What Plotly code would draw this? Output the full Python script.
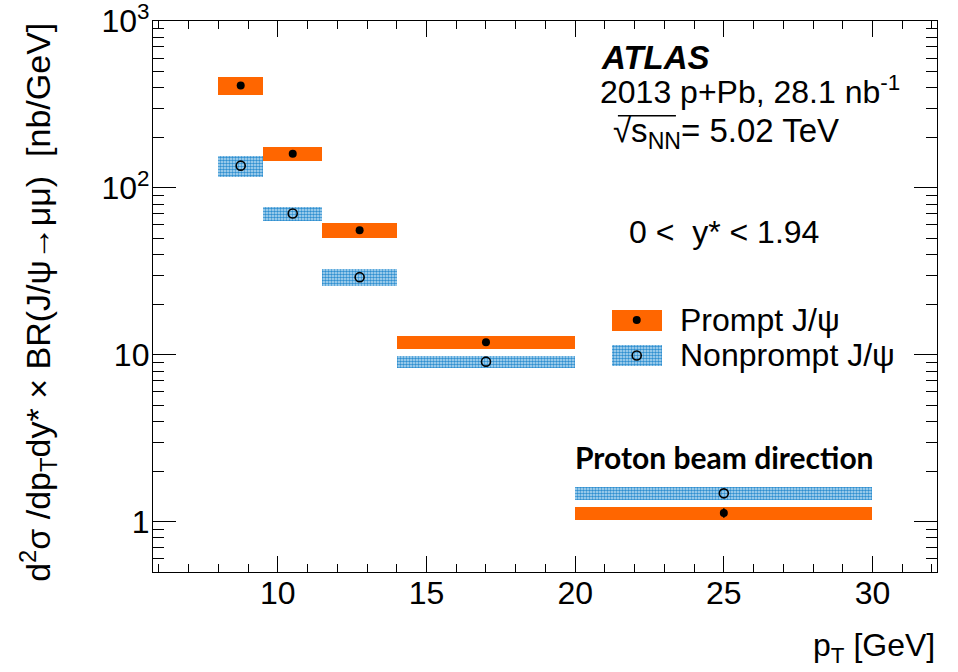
import math
import plotly.graph_objects as go

# ---------------- data ----------------
bin_lo = [8.0, 9.5, 11.5, 14.0, 20.0]
bin_hi = [9.5, 11.5, 14.0, 20.0, 30.0]
pt_center = [8.75, 10.5, 12.75, 17.0, 25.0]

prompt = [411, 160, 55.8, 11.9, 1.13]
prompt_stat = [4, 2, 0.8, 0.2, 0.075]
prompt_syst = [53, 16, 6.0, 1.06, 0.10]

nonprompt = [136, 70.2, 29.2, 9.1, 1.48]
nonprompt_syst = [19, 6.4, 3.4, 0.77, 0.13]

y_tickvals = [1, 10, 100, 1000]
y_ticktext = ["1", "10", "10<sup>2</sup>", "10<sup>3</sup>"]
y_minor = [m * 10 ** e for e in range(-1, 3) for m in range(2, 10) if 0.5 <= m * 10 ** e <= 1000]

ORANGE = "#ff6600"
BLUE = "#2f8fd0"
FONT = "Liberation Sans, Arial, Helvetica, sans-serif"

widths = [h - l for l, h in zip(bin_lo, bin_hi)]

fig = go.Figure()

BLUE_PATTERN = dict(shape=".", fgcolor=BLUE, bgcolor="#bfe0f4", size=3, solidity=0.55, fillmode="replace")

# systematic boxes
fig.add_trace(go.Bar(
    x=pt_center, width=widths,
    base=[v - s for v, s in zip(prompt, prompt_syst)],
    y=[2 * s for s in prompt_syst],
    marker=dict(color=ORANGE, line=dict(width=0)),
    showlegend=False,
))
fig.add_trace(go.Bar(
    x=pt_center, width=widths,
    base=[v - s for v, s in zip(nonprompt, nonprompt_syst)],
    y=[2 * s for s in nonprompt_syst],
    marker=dict(color="white", line=dict(width=0), pattern=BLUE_PATTERN),
    showlegend=False,
))

# points
fig.add_trace(go.Scatter(
    x=pt_center, y=prompt, mode="markers",
    marker=dict(symbol="circle", size=8, color="black"),
    error_y=dict(type="data", array=prompt_stat, color="black", thickness=1.5, width=0),
    showlegend=False,
))
fig.add_trace(go.Scatter(
    x=pt_center, y=nonprompt, mode="markers",
    marker=dict(symbol="circle-open", size=9, color="black", line=dict(width=1.6)),
    showlegend=False,
))

# ---------------- legend swatches (overlay axes in plot fractions) ----------------
LEG_X = 0.617
LEG_W = 0.0637
LEG_ROWS = [(0.438, 0.4755, 0.4574), (0.374, 0.412, 0.393)]
fig.add_trace(go.Bar(
    x=[LEG_X], width=[LEG_W], base=[LEG_ROWS[0][0]], y=[LEG_ROWS[0][1] - LEG_ROWS[0][0]],
    marker=dict(color=ORANGE, line=dict(width=0)),
    xaxis="x2", yaxis="y2", showlegend=False, hoverinfo="skip",
))
fig.add_trace(go.Bar(
    x=[LEG_X], width=[LEG_W], base=[LEG_ROWS[1][0]], y=[LEG_ROWS[1][1] - LEG_ROWS[1][0]],
    marker=dict(color="white", line=dict(width=0), pattern=BLUE_PATTERN),
    xaxis="x2", yaxis="y2", showlegend=False, hoverinfo="skip",
))
fig.add_trace(go.Scatter(
    x=[LEG_X], y=[LEG_ROWS[0][2]], mode="markers",
    marker=dict(symbol="circle", size=8, color="black"),
    xaxis="x2", yaxis="y2", showlegend=False, hoverinfo="skip",
))
fig.add_trace(go.Scatter(
    x=[LEG_X], y=[LEG_ROWS[1][2]], mode="markers",
    marker=dict(symbol="circle-open", size=9, color="black", line=dict(width=1.6)),
    xaxis="x2", yaxis="y2", showlegend=False, hoverinfo="skip",
))

axis_common = dict(
    showline=True, linecolor="black", linewidth=1.3, mirror="ticks",
    ticks="inside", tickcolor="black", tickwidth=1.3,
    showgrid=False, zeroline=False, automargin=False, ticklabeloverflow="allow",
    tickfont=dict(family=FONT, size=32, color="black"),
)

fig.update_layout(
    width=958, height=672,
    margin=dict(l=153, r=21, t=21, b=100),
    paper_bgcolor="white", plot_bgcolor="white",
    barmode="overlay", bargap=0,
    font=dict(family=FONT, color="black"),
    xaxis=dict(range=[5.8, 32.17], tick0=0, dtick=5, ticklen=16,
               minor=dict(ticks="inside", dtick=1, ticklen=8, tickcolor="black", tickwidth=1.3),
               ticklabelstandoff=-8, **axis_common),
    yaxis=dict(type="log", range=[math.log10(0.5), 3],
               tickmode="array", tickvals=y_tickvals, ticktext=y_ticktext, ticklen=23,
               minor=dict(ticks="inside", tickvals=y_minor, ticklen=11, tickcolor="black", tickwidth=1.3),
               ticklabelstandoff=-4, **axis_common),
    xaxis2=dict(overlaying="x", range=[0, 1], visible=False, automargin=False),
    yaxis2=dict(overlaying="y", range=[0, 1], visible=False, automargin=False),
)

annots = [
    dict(text="<b><i>ATLAS</i></b>", x=0.569, y=0.934, size=33, xanchor="left"),
    dict(text="2013 p+Pb, 28.1 nb<sup>-1</sup>", x=0.568, y=0.875, size=32, xanchor="left"),
    dict(text="√s<sub>NN</sub>= 5.02 TeV", x=0.584, y=0.797, size=33, xanchor="left"),
    dict(text="0 <  y* < 1.94", x=0.604, y=0.617, size=32, xanchor="left"),
    dict(text="Prompt J/ψ", x=0.670, y=0.457, size=32, xanchor="left"),
    dict(text="Nonprompt J/ψ", x=0.670, y=0.394, size=32, xanchor="left"),
    dict(text="p<sub>T</sub> [GeV]", x=1.0, y=-0.137, size=32, xanchor="right"),
]
for a in annots:
    fig.add_annotation(text=a["text"], x=a["x"], y=a["y"], xref="paper", yref="paper",
                       xanchor=a["xanchor"], yanchor="middle", showarrow=False,
                       font=dict(family=FONT, size=a["size"], color="black"))

fig.add_annotation(text="<b>Proton beam direction</b>", x=0.536, y=0.209, xref="paper", yref="paper",
                   xanchor="left", yanchor="middle", showarrow=False,
                   font=dict(family="Lato, sans-serif", size=30, color="black"))

fig.add_annotation(text="d<sup>2</sup>σ /dp<sub>T</sub>dy* × BR(J/ψ→μμ)\u00a0\u00a0[nb/GeV]",
                   x=-0.1475, y=1.0, xref="paper", yref="paper", textangle=-90,
                   xanchor="center", yanchor="top", showarrow=False,
                   font=dict(family=FONT, size=34, color="black"))

# overline of the square root
fig.add_shape(type="line", xref="paper", yref="paper", x0=0.593, x1=0.667, y0=0.828, y1=0.828,
              line=dict(color="black", width=1.3))

# remove the browser's default 8px body margin so the figure sits at the page origin
fig.write_html("out.html", config={"displayModeBar": False},
               post_script="document.body.style.margin='0';")
